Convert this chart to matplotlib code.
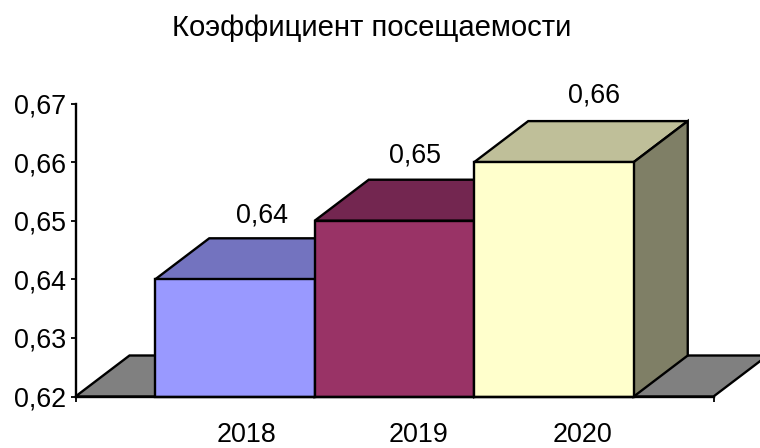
import matplotlib
matplotlib.use("Agg")
import matplotlib.pyplot as plt
from matplotlib.patches import Polygon
from matplotlib.transforms import offset_copy

plt.rcParams["font.family"] = ["Liberation Sans", "DejaVu Sans"]

title = "Коэффициент посещаемости"
years = ["2018", "2019", "2020"]
values = [0.64, 0.65, 0.66]
value_labels = ["0,64", "0,65", "0,66"]
y_ticks = [0.62, 0.63, 0.64, 0.65, 0.66, 0.67]
y_tick_labels = ["0,62", "0,63", "0,64", "0,65", "0,66", "0,67"]

front_colors = ["#9999FF", "#993366", "#FFFFCC"]
top_colors = ["#7373BF", "#732650", "#BFBF99"]
side_colors = ["#7373BF", "#732650", "#7F7F66"]

W, H = 760, 448
# depth of the fake 3d, in data units
DX = 54 / 159.5
DY = 41 / 58.6 * 0.01
BASE = 0.62
LW = 1.7
FS = 19.4

fig = plt.figure(figsize=(W / 100, H / 100), dpi=100)
ax = fig.add_axes([75.5 / W, 1 - 396.5 / H, 638 / W, 293 / H])
ax.set_xlim(-1, 3)
ax.set_ylim(BASE, 0.67)

# floor
ax.add_patch(Polygon(
    [(-1, BASE), (-1 + DX, BASE + DY), (3 + DX, BASE + DY), (3, BASE)],
    facecolor="#808080", edgecolor="black", lw=LW, clip_on=False, zorder=1,
))

for i, val in enumerate(values):
    l, r = i - 0.5, i + 0.5
    z = 2 + i
    ax.add_patch(Polygon(
        [(l, val), (l + DX, val + DY), (r + DX, val + DY), (r, val)],
        facecolor=top_colors[i], edgecolor="black", lw=LW, clip_on=False, zorder=z,
    ))
    ax.add_patch(Polygon(
        [(r, BASE), (r + DX, BASE + DY), (r + DX, val + DY), (r, val)],
        facecolor=side_colors[i], edgecolor="black", lw=LW, clip_on=False, zorder=z,
    ))
    ax.bar(i, val - BASE, bottom=BASE, width=1, color=front_colors[i],
           edgecolor="black", linewidth=LW, zorder=z + 0.5, clip_on=False)

# labels sit off-centre in the original, offsets in px
label_dx = [27, 20, 40]
label_dy = [64, 65, 67]
year_dx = [12, 24, 28]
for i, val in enumerate(values):
    tr = offset_copy(ax.transData, fig=fig, x=label_dx[i], y=label_dy[i], units="dots")
    ax.text(i, val, value_labels[i], transform=tr, ha="center", va="center",
            fontsize=FS, zorder=10, clip_on=False)
    tr = offset_copy(ax.transData, fig=fig, x=year_dx[i], y=-38, units="dots")
    ax.text(i, BASE, years[i], transform=tr, ha="center", va="center",
            fontsize=FS, clip_on=False)

for s in ["top", "right"]:
    ax.spines[s].set_visible(False)
for s in ["left", "bottom"]:
    ax.spines[s].set_linewidth(LW)
    ax.spines[s].set_zorder(9)

ax.set_yticks(y_ticks)
ax.set_yticklabels(y_tick_labels, fontsize=FS)
ax.set_xticks([-1, 3])
ax.set_xticklabels([])
ax.tick_params(axis="both", length=3.5, width=1.3, pad=3)

fig.text(372 / W, 1 - 28 / H, title, ha="center", va="center", fontsize=21.1)

fig.savefig("out.png", dpi=100)
plt.close()
